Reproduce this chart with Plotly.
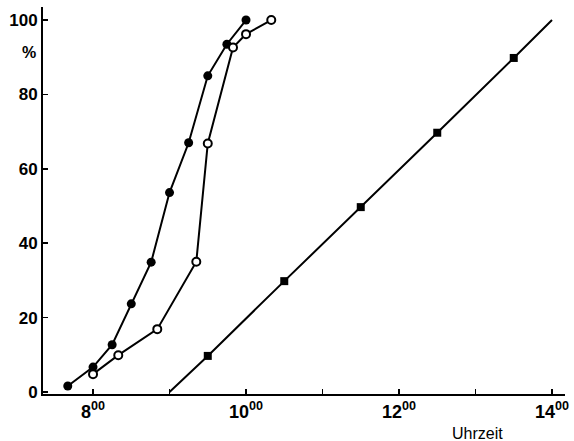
import plotly.graph_objects as go

# Data (x = time of day in hours, y = percent)
filled_x = [7.67, 8.0, 8.25, 8.5, 8.76, 9.0, 9.25, 9.5, 9.75, 10.0]
filled_y = [1.6, 6.7, 12.7, 23.7, 34.9, 53.6, 67.0, 85.0, 93.5, 100.0]

open_x = [8.0, 8.33, 8.84, 9.35, 9.5, 9.83, 10.0, 10.33]
open_y = [4.8, 9.9, 16.9, 35.0, 66.8, 92.6, 96.2, 100.0]

square_x = [9.5, 10.5, 11.5, 12.5, 13.5]
square_y = [9.7, 29.8, 49.7, 69.7, 89.8]
square_line_x = [9.0, 9.5, 10.5, 11.5, 12.5, 13.5, 14.0]
square_line_y = [0.0, 9.7, 29.8, 49.7, 69.7, 89.8, 100.0]

x_ticks = [8, 10, 12, 14]
x_ticktext = ["8<sup>00</sup>", "10<sup>00</sup>", "12<sup>00</sup>", "14<sup>00</sup>"]
x_minor_ticks = [9, 11, 13]
y_ticks = [0, 20, 40, 60, 80, 100]
y_ticktext = ["0", "20", "40", "60", "80", "100"]

FONT = "Liberation Sans, Arial, sans-serif"
BLACK = "#000000"

L, R, T, B = 43, 9, 7, 47
W, H = 574, 441

fig = go.Figure()

fig.add_trace(go.Scatter(
    x=square_line_x, y=square_line_y, mode="lines",
    line=dict(color=BLACK, width=2), hoverinfo="skip", showlegend=False))
fig.add_trace(go.Scatter(
    x=square_x, y=square_y, mode="markers",
    marker=dict(symbol="square", size=8, color=BLACK), showlegend=False))

fig.add_trace(go.Scatter(
    x=filled_x, y=filled_y, mode="lines+markers",
    line=dict(color=BLACK, width=2),
    marker=dict(symbol="circle", size=9, color=BLACK), showlegend=False))

fig.add_trace(go.Scatter(
    x=open_x, y=open_y, mode="lines+markers",
    line=dict(color=BLACK, width=2),
    marker=dict(symbol="circle", size=8, color="white",
                line=dict(color=BLACK, width=2)), showlegend=False))

pw = W - L - R
ph = H - T - B
def px(xp):
    return (xp - L) / pw
def py(yp):
    return (H - B - yp) / ph

fig.update_layout(
    width=W, height=H,
    margin=dict(l=L, r=R, t=T, b=B, autoexpand=False),
    paper_bgcolor="white", plot_bgcolor="white",
    font=dict(family=FONT, color=BLACK, size=15),
    hovermode=False,
    xaxis=dict(
        range=[7.346, 14.17], tickvals=x_ticks, ticktext=x_ticktext,
        ticks="inside", ticklen=5, tickwidth=1.5, tickcolor=BLACK,
        minor=dict(tickvals=x_minor_ticks, ticks="inside", ticklen=5,
                   tickwidth=1.5, tickcolor=BLACK, showgrid=False),
        showline=True, linecolor=BLACK, linewidth=2,
        showgrid=False, zeroline=False, automargin=False,
        tickfont=dict(family=FONT, size=18, color=BLACK, weight="bold")),
    yaxis=dict(
        range=[-0.54, 103.5], tickvals=y_ticks, ticktext=y_ticktext,
        ticks="inside", ticklen=5, tickwidth=1.5, tickcolor=BLACK,
        showline=True, linecolor=BLACK, linewidth=2,
        showgrid=False, zeroline=False, automargin=False,
        tickfont=dict(family=FONT, size=17, color=BLACK, weight="bold")),
    annotations=[
        dict(text="<b>%</b>", x=px(29), y=py(53), xref="paper", yref="paper",
             xanchor="center", yanchor="middle",
             showarrow=False, font=dict(family=FONT, size=16, color=BLACK)),
        dict(text="Uhrzeit", x=px(477), y=py(433), xref="paper", yref="paper",
             xanchor="center", yanchor="middle",
             showarrow=False, font=dict(family=FONT, size=16, color=BLACK)),
    ],
)

fig.write_html(
    "out.html",
    config={"displayModeBar": False, "staticPlot": True},
    post_script="document.body.style.margin='0';document.body.style.overflow='hidden';",
)
